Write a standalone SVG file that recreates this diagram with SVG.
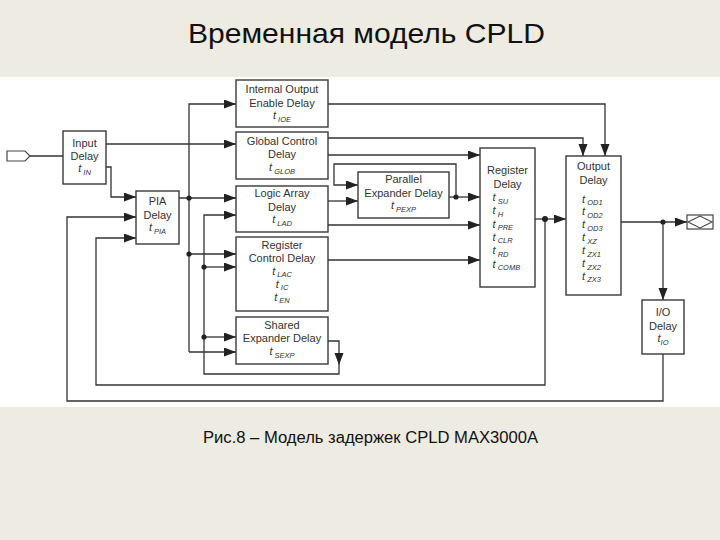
<svg xmlns="http://www.w3.org/2000/svg" width="720" height="540" viewBox="0 0 720 540">
<style>
.bx{fill:#fff;stroke:#3a3a3a;stroke-width:1.4}
.ln{fill:none;stroke:#333;stroke-width:1.3}
.ar{fill:none;stroke:#333;stroke-width:1.3;marker-end:url(#ah)}
.dot{fill:#222}
text{font-family:"Liberation Sans",Arial,sans-serif;fill:#333}
.lb{font-size:11px;text-anchor:middle}
.lt{font-size:11px}
.t{font-style:italic}
.s{font-size:7.5px;font-style:italic}
</style>
<defs>
<marker id="ah" markerUnits="userSpaceOnUse" markerWidth="13" markerHeight="10" refX="12" refY="4.5" orient="auto">
<path d="M0,0 L12,4.5 L0,9 z" fill="#222"/>
</marker>
</defs>
<rect x="0" y="0" width="720" height="540" fill="#EDEBE2"/>
<rect x="0" y="77" width="720" height="330" fill="#fff"/>
<text x="366.5" y="43" font-size="28" text-anchor="middle" style="fill:#111" textLength="357" lengthAdjust="spacingAndGlyphs">Временная модель CPLD</text>
<text x="370.5" y="443" font-size="16" text-anchor="middle" style="fill:#111" textLength="335" lengthAdjust="spacingAndGlyphs">Рис.8 – Модель задержек CPLD MAX3000A</text>

<g id="connectors">
<path class="ln" d="M30,156 H63"/>
<path class="ar" d="M106,144 H236"/>
<path class="ar" d="M106,167 H111 V197 H136"/>
<path class="ar" d="M663,354 V401 H67 V217 H136"/>
<path class="ar" d="M545,219 V385 H96 V238 H136"/>
<path class="ar" d="M179,198 H236"/>
<path class="ar" d="M189,352 V104 H236"/>
<path class="ar" d="M189,254 H236"/>
<path class="ar" d="M189,352 H236"/>
<path class="ar" d="M339,365 V374 H204 V215 H236"/>
<path class="ar" d="M204,267 H236"/>
<path class="ar" d="M204,337 H236"/>
<path class="ar" d="M328,341 H339 V365"/>
<path class="ar" d="M328,104 H605 V156"/>
<path class="ar" d="M328,138 H583 V156"/>
<path class="ar" d="M328,155 H480"/>
<path class="ar" d="M328,201 H358"/>
<path class="ar" d="M449,197 H480"/>
<path class="ar" d="M456,197 V164 H334 V185 H358"/>
<path class="ar" d="M328,225 H480"/>
<path class="ar" d="M328,260 H480"/>
<path class="ar" d="M535,219 H566"/>
<path class="ar" d="M621,222 H687"/>
<path class="ar" d="M663,222 V300"/>
<circle class="dot" cx="189" cy="198" r="2.6"/>
<circle class="dot" cx="189" cy="254" r="2.6"/>
<circle class="dot" cx="204" cy="267" r="2.6"/>
<circle class="dot" cx="204" cy="337" r="2.6"/>
<circle class="dot" cx="456" cy="197" r="2.6"/>
<circle class="dot" cx="545" cy="219" r="3"/>
<circle class="dot" cx="663" cy="222" r="2.6"/>
</g>

<g id="input-pin">
<polygon points="7,151 25,151 30,156 25,161 7,161" fill="#fff" stroke="#444" stroke-width="1.2"/>
</g>

<g id="output-pin">
<rect x="687" y="215" width="26" height="14" fill="#fff" stroke="#444" stroke-width="1.2"/>
<polygon points="688,222 700,216 712,222 700,228" fill="none" stroke="#444" stroke-width="1.1"/>
</g>

<g id="input-delay">
<rect class="bx" x="63" y="131" width="43" height="53"/>
<text class="lb" x="84.5" y="146.5">Input</text>
<text class="lb" x="84.5" y="160">Delay</text>
<text class="lb" x="84.5" y="172"><tspan class="t">t</tspan><tspan class="s" dy="2.5"> IN</tspan></text>
</g>

<g id="pia-delay">
<rect class="bx" x="136" y="191" width="43" height="53"/>
<text class="lb" x="157.5" y="205">PIA</text>
<text class="lb" x="157.5" y="218.5">Delay</text>
<text class="lb" x="157.5" y="231"><tspan class="t">t</tspan><tspan class="s" dy="2.5"> PIA</tspan></text>
</g>

<g id="ioe-delay">
<rect class="bx" x="236" y="80" width="92" height="47"/>
<text class="lb" x="282" y="93">Internal Output</text>
<text class="lb" x="282" y="106.5">Enable Delay</text>
<text class="lb" x="282" y="119"><tspan class="t">t</tspan><tspan class="s" dy="2.5"> IOE</tspan></text>
</g>

<g id="glob-delay">
<rect class="bx" x="236" y="132" width="92" height="47"/>
<text class="lb" x="282" y="144.5">Global Control</text>
<text class="lb" x="282" y="158">Delay</text>
<text class="lb" x="282" y="171"><tspan class="t">t</tspan><tspan class="s" dy="2.5"> GLOB</tspan></text>
</g>

<g id="lad-delay">
<rect class="bx" x="236" y="186" width="92" height="46"/>
<text class="lb" x="282" y="197">Logic Array</text>
<text class="lb" x="282" y="210.5">Delay</text>
<text class="lb" x="282" y="223"><tspan class="t">t</tspan><tspan class="s" dy="2.5"> LAD</tspan></text>
</g>

<g id="pexp-delay">
<rect class="bx" x="358" y="172" width="91" height="46"/>
<text class="lb" x="403.5" y="183">Parallel</text>
<text class="lb" x="403.5" y="196.5">Expander Delay</text>
<text class="lb" x="403.5" y="209"><tspan class="t">t</tspan><tspan class="s" dy="2.5"> PEXP</tspan></text>
</g>

<g id="regctrl-delay">
<rect class="bx" x="236" y="237" width="92" height="74"/>
<text class="lb" x="282" y="248.5">Register</text>
<text class="lb" x="282" y="262">Control Delay</text>
<text class="lb" x="282" y="274.5"><tspan class="t">t</tspan><tspan class="s" dy="2.5"> LAC</tspan></text>
<text class="lb" x="282" y="287.5"><tspan class="t">t</tspan><tspan class="s" dy="2.5"> IC</tspan></text>
<text class="lb" x="282" y="300.5"><tspan class="t">t</tspan><tspan class="s" dy="2.5"> EN</tspan></text>
</g>

<g id="sexp-delay">
<rect class="bx" x="236" y="317" width="92" height="47"/>
<text class="lb" x="282" y="328.5">Shared</text>
<text class="lb" x="282" y="342">Expander Delay</text>
<text class="lb" x="282" y="355"><tspan class="t">t</tspan><tspan class="s" dy="2.5"> SEXP</tspan></text>
</g>

<g id="register-delay">
<rect class="bx" x="480" y="148" width="55" height="139"/>
<text class="lb" x="507.5" y="174">Register</text>
<text class="lb" x="507.5" y="187.5">Delay</text>
<text class="lt" x="492.5" y="201"><tspan class="t">t</tspan><tspan class="s" dy="2.5"> SU</tspan></text>
<text class="lt" x="492.5" y="214.3"><tspan class="t">t</tspan><tspan class="s" dy="2.5"> H</tspan></text>
<text class="lt" x="492.5" y="227.6"><tspan class="t">t</tspan><tspan class="s" dy="2.5"> PRE</tspan></text>
<text class="lt" x="492.5" y="240.9"><tspan class="t">t</tspan><tspan class="s" dy="2.5"> CLR</tspan></text>
<text class="lt" x="492.5" y="254.2"><tspan class="t">t</tspan><tspan class="s" dy="2.5"> RD</tspan></text>
<text class="lt" x="492.5" y="267.5"><tspan class="t">t</tspan><tspan class="s" dy="2.5"> COMB</tspan></text>
</g>

<g id="output-delay">
<rect class="bx" x="566" y="156" width="55" height="139"/>
<text class="lb" x="593.5" y="170">Output</text>
<text class="lb" x="593.5" y="184">Delay</text>
<text class="lt" x="582" y="202.5"><tspan class="t">t</tspan><tspan class="s" dy="2.5"> OD1</tspan></text>
<text class="lt" x="582" y="215.4"><tspan class="t">t</tspan><tspan class="s" dy="2.5"> OD2</tspan></text>
<text class="lt" x="582" y="228.3"><tspan class="t">t</tspan><tspan class="s" dy="2.5"> OD3</tspan></text>
<text class="lt" x="582" y="241.2"><tspan class="t">t</tspan><tspan class="s" dy="2.5"> XZ</tspan></text>
<text class="lt" x="582" y="254.1"><tspan class="t">t</tspan><tspan class="s" dy="2.5"> ZX1</tspan></text>
<text class="lt" x="582" y="267"><tspan class="t">t</tspan><tspan class="s" dy="2.5"> ZX2</tspan></text>
<text class="lt" x="582" y="279.9"><tspan class="t">t</tspan><tspan class="s" dy="2.5"> ZX3</tspan></text>
</g>

<g id="io-delay">
<rect class="bx" x="642" y="300" width="42" height="54"/>
<text class="lb" x="663" y="316">I/O</text>
<text class="lb" x="663" y="329.5">Delay</text>
<text class="lb" x="663" y="342"><tspan class="t">t</tspan><tspan class="s" dy="2.5">IO</tspan></text>
</g>
</svg>
